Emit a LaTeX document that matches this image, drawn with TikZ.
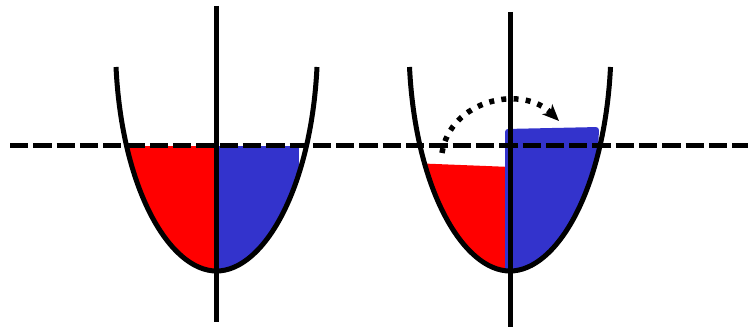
\documentclass[tikz,border=0pt]{standalone}
\usepackage{xcolor}
\usetikzlibrary{arrows.meta}

\definecolor{wellred}{RGB}{255,0,0}
\definecolor{wellblue}{RGB}{51,51,204}

% U-shaped potential well, vertex at local (0,271)
\newcommand{\wellcurve}{(-100.5,67) .. controls (-94.5,190) and (-46.5,271) .. (0,271)
  .. controls (46.5,271) and (94.5,190) .. (100.5,67)}

\begin{document}
\begin{tikzpicture}[x=0.02cm, y=-0.02cm,
  wall/.style={draw=black, line width=0.1cm},
  axisline/.style={draw=black, line width=0.1cm},
  level/.style={draw=black, line width=0.1cm, dash pattern=on 0.366cm off 0.1cm},
  hop/.style={draw=black, line width=0.11cm, dash pattern=on 0.1cm off 0.145cm,
    -{Stealth[length=0.33cm, width=0.28cm, inset=0.09cm]}},
]
\useasboundingbox (0,0) rectangle (753,331);

% left well: equal levels
\begin{scope}[shift={(216.5,0)}]
  \begin{scope}
    \clip \wellcurve -- cycle;
    \fill[wellred] (-88.5,146) rectangle (0,290);
    \fill[wellblue] (0,146) rectangle (82.5,290);
  \end{scope}
\end{scope}

% right well: shifted levels
\begin{scope}[shift={(510,0)}]
  \begin{scope}
    \clip \wellcurve -- cycle;
    \fill[wellred] (-87,163.5) -- (1,167) -- (1,290) -- (-110,290) -- cycle;
    \fill[wellblue, rounded corners=0.06cm] (-5,129) -- (89,127) -- (87,190) -- (87,290) -- (-5,290) -- cycle;
  \end{scope}
\end{scope}

% reference level
\coordinate (levelL) at (10,145);
\coordinate (levelR) at (748,145);
\draw[level] (levelL) -- (levelR);

% vertical axes
\coordinate (axAtop) at (216.5,6);
\coordinate (axAbot) at (216.5,322);
\coordinate (axBtop) at (510.5,12);
\coordinate (axBbot) at (510.5,327);
\draw[axisline] (axAtop) -- (axAbot);
\draw[axisline] (axBtop) -- (axBbot);

% well walls
\draw[wall, shift={(216.5,0)}] \wellcurve;
\draw[wall, shift={(510,0)}] \wellcurve;

% transfer arrow
\coordinate (hopS) at (442,153);
\coordinate (hopE) at (559,121);
\draw[hop] (hopS) .. controls (450,100) and (522,84) .. (hopE);
\end{tikzpicture}
\end{document}
